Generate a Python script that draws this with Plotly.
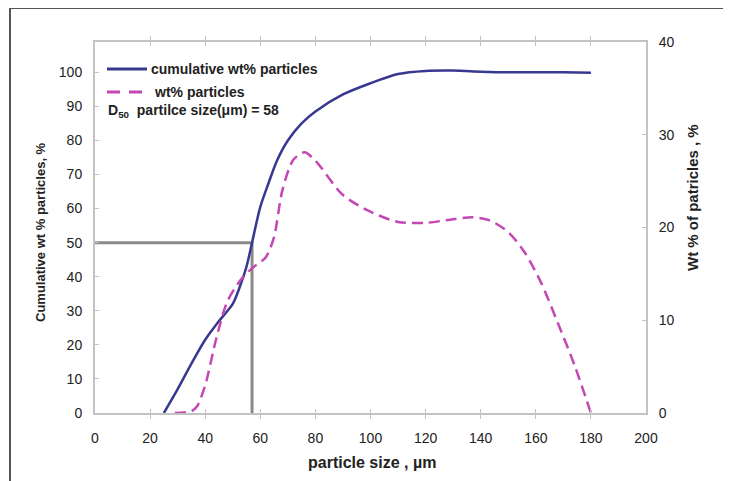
import plotly.graph_objects as go

# ---- data ----
cum_x = [25, 30, 35, 40, 45, 50, 53, 55, 57, 60, 63, 66, 70, 75, 80, 90, 100, 110, 120, 130, 140, 150, 160, 170, 180]
cum_y = [0, 7, 14.5, 21.5, 27, 32, 38, 43, 50, 60.5, 67.5, 74, 80, 85, 88.5, 93.5, 96.8, 99.5, 100.4, 100.5, 100.2, 100, 100, 100, 99.9]

wt_x = [29, 35, 37, 40, 44, 48, 53, 57, 62, 65, 68, 72, 76, 80, 90, 100, 110, 120, 130, 137, 143, 150, 156, 162, 168, 174, 180]
wt_y = [0, 0.2, 0.7, 3.0, 8.0, 12.0, 14.4, 15.6, 16.8, 19, 24, 27.3, 28.1, 27.2, 23.5, 21.7, 20.6, 20.5, 20.9, 21.1, 20.8, 19.5, 17.3, 14, 9.7, 5.2, 0]

d50_x = [0, 57, 57]
d50_y = [50, 50, 0]

x_ticks = list(range(0, 201, 20))
y_ticks = list(range(0, 101, 10))
y2_ticks = list(range(0, 41, 10))

BLUE = "#383890"
PINK = "#c447b4"
FONT = "Liberation Sans"
AX = "#c3c3c3"

# page body has an 8px margin; positions below are in window pixels
OFF = 8
W, H = 731 - OFF, 481 - OFF
L, R, T, B = 95 - OFF, 646 - OFF, 42 - OFF, 413 - OFF
pw, ph = R - L, B - T

def px(xp):
    return (xp - OFF - L) / pw

def py(yp):
    return (B - (yp - OFF)) / ph

fig = go.Figure()
fig.add_trace(go.Scatter(x=d50_x, y=d50_y, mode="lines",
                         line=dict(color="#8a8a8a", width=3), showlegend=False, hoverinfo="skip"))
fig.add_trace(go.Scatter(x=cum_x, y=cum_y, mode="lines", name="cumulative wt% particles",
                         line=dict(color=BLUE, width=2.5, shape="spline", smoothing=0.8),
                         showlegend=False))
fig.add_trace(go.Scatter(x=wt_x, y=wt_y, mode="lines", name="wt% particles", yaxis="y2",
                         line=dict(color=PINK, width=2.5, shape="spline", smoothing=0.8, dash="11px,6px"),
                         showlegend=False))

tickfont = dict(family=FONT, size=14, color="#222222")
fig.update_layout(
    width=W, height=H,
    margin=dict(l=L, r=W - R, t=T, b=H - B, autoexpand=False),
    paper_bgcolor="white", plot_bgcolor="white",
    font=dict(family=FONT, color="#222222"),
    xaxis=dict(range=[0, 200], tickvals=x_ticks, showgrid=False, zeroline=False,
               showline=True, linecolor=AX, linewidth=2, mirror="allticks",
               ticks="inside", ticklen=4, tickcolor=AX, tickwidth=1,
               tickfont=tickfont, ticklabelstandoff=11),
    yaxis=dict(range=[0, 108.9], tickvals=y_ticks, showgrid=False, zeroline=False,
               showline=True, linecolor=AX, linewidth=2,
               ticks="inside", ticklen=4, tickcolor=AX, tickwidth=1,
               tickfont=tickfont, ticklabelstandoff=8),
    yaxis2=dict(range=[0, 40], tickvals=y2_ticks, overlaying="y", side="right",
                showgrid=False, zeroline=False, showline=True, linecolor=AX, linewidth=2,
                ticks="inside", ticklen=4, tickcolor=AX, tickwidth=1,
                tickfont=tickfont, ticklabelstandoff=8),
)

def bf(size):
    return dict(family=FONT, size=size, color="#222222")

anns = [
    dict(text="<b>Cumulative wt % particles, %</b>", x=px(40), y=py(232), textangle=-90, font=bf(13), xanchor="center"),
    dict(text="<b>Wt % of patricles , %</b>", x=px(692), y=py(198), textangle=-90, font=bf(15), xanchor="center"),
    dict(text="<b>particle size , µm</b>", x=px(372), y=py(463), font=bf(16), xanchor="center"),
    dict(text="<b>cumulative wt% particles</b>", x=px(149), y=py(69), xanchor="left", font=bf(14)),
    dict(text="<b>wt% particles</b>", x=px(152), y=py(92), xanchor="left", font=bf(14)),
    dict(text="<b>D<sub>50</sub>  partilce size(μm) = 58</b>", x=px(106), y=py(111), xanchor="left", font=bf(14)),
]
for a in anns:
    a.update(xref="paper", yref="paper", showarrow=False, yanchor="middle")
    fig.add_annotation(**a)

shapes = [
    # outer frame
    dict(type="rect", x0=px(10), x1=px(727), y0=py(495), y1=py(8),
         line=dict(color="#555555", width=2)),
    # legend samples
    dict(type="line", x0=px(107), x1=px(147), y0=py(69), y1=py(69),
         line=dict(color=BLUE, width=3)),
    dict(type="line", x0=px(107), x1=px(147), y0=py(92), y1=py(92),
         line=dict(color=PINK, width=3, dash="13px,9px")),
]
for s in shapes:
    s.update(xref="paper", yref="paper")
    fig.add_shape(**s)

fig.write_html("out.html")
